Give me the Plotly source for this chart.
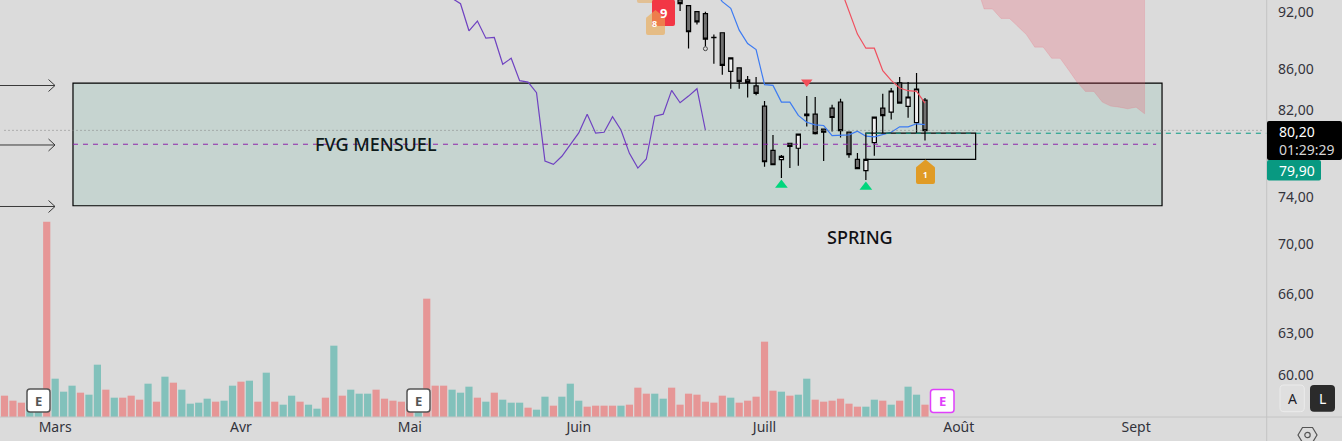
import plotly.graph_objects as go

# volume bars, one per session
volumes = [64, 49, 43, 50, 50, 586, 115, 76, 94, 73, 67, 157, 82, 58, 58, 64, 52, 100, 46, 121,
           103, 82, 40, 43, 55, 46, 49, 94, 106, 109, 46, 133, 46, 37, 64, 46, 37, 25, 58, 214,
           64, 82, 70, 70, 82, 55, 49, 46, 40, 40, 355, 94, 94, 82, 73, 91, 58, 46, 73, 52,
           43, 43, 28, 22, 61, 34, 61, 100, 49, 31, 34, 34, 34, 34, 37, 88, 70, 70, 55, 88,
           37, 70, 67, 46, 43, 64, 58, 43, 49, 61, 226, 79, 76, 64, 67, 115, 52, 46, 49, 55,
           40, 31, 31, 52, 49, 37, 49, 91, 67, 37]
vol_dir = "ddduudu" "uududdd" "dudud" "uuuuduududuuduuuduuuuddd" "uuuuu"
# u = teal, d = red
vol_dir = list("ddduud" "uuuduu" "duddd" "ududuu" "uuuduu" "dudu" "uduu" "du" "uuddddduu"[:0])
vol_dir = ["d", "d", "d", "u", "u", "d", "u", "u", "u", "d", "u", "u", "d", "u", "d", "d", "d", "u", "d", "u",
           "d", "u", "u", "u", "u", "d", "u", "u", "d", "u", "d", "u", "d", "u", "u", "d", "u", "u", "d", "u",
           "d", "u", "u", "u", "d", "d", "d", "d", "d", "u", "d", "d", "d", "u", "u", "u", "d", "u", "d", "u",
           "u", "u", "d", "u", "u", "d", "u", "u", "u", "d", "d", "d", "d", "u", "d", "d", "d", "u", "u", "d",
           "d", "d", "d", "d", "d", "d", "u", "d", "d", "d", "d", "d", "u", "d", "u", "u", "d", "d", "d", "d",
           "d", "d", "u", "u", "d", "u", "d", "u", "u", "d"]

# candles
candle_idx = list(range(79, 110))
opens = [94.50, 93.39, 92.73, 92.07, 91.86, 89.33, 89.81, 85.82, 86.17, 84.95, 84.35, 82.37, 78.19, 77.33, 78.84, 78.38,
         81.60, 81.60, 80.16, 82.18, 82.77, 79.88, 77.36, 76.33, 78.90, 82.18, 81.79, 84.65, 82.34, 80.79, 82.96]
highs = [95.00, 93.60, 92.73, 92.07, 92.07, 89.63, 89.81, 87.19, 86.17, 85.35, 85.25, 82.86, 79.62, 77.76, 78.84, 79.69,
         83.36, 83.26, 80.16, 82.50, 83.09, 79.88, 77.94, 77.36, 81.31, 83.58, 84.15, 85.25, 84.75, 85.66, 83.16]
lows = [92.76, 92.14, 88.16, 90.69, 88.40, 86.60, 85.48, 84.08, 84.08, 83.22, 83.42, 76.69, 76.87, 75.67, 76.57, 76.78,
        80.41, 79.65, 77.21, 79.93, 79.37, 77.51, 76.51, 75.49, 77.69, 79.78, 81.08, 82.67, 81.24, 79.78, 79.09]
closes = [93.60, 92.95, 89.92, 90.98, 89.13, 89.29, 86.43, 87.19, 84.81, 84.68, 83.61, 77.14, 76.87, 77.64, 78.56, 79.69,
          81.46, 79.74, 79.88, 81.27, 80.03, 77.79, 76.51, 77.36, 81.31, 81.46, 83.85, 82.67, 83.26, 84.05, 80.03]

# moving lines
purple_idx = list(range(52, 84))
purple_vals = [94.50, 93.53, 92.94, 90.02, 91.06, 89.24, 89.31, 86.54, 87.15, 84.88, 84.74, 83.68, 77.21, 76.90, 77.64, 78.72,
               79.81, 81.59, 79.78, 79.87, 81.34, 80.09, 77.91, 76.57, 77.39, 81.40, 81.59, 83.91, 82.70, 83.35, 84.08, 80.06]
blue_idx = list(range(84, 110))
blue_vals = [94.46, 93.16, 92.43, 90.09, 88.68, 88.05, 84.48, 84.41, 82.76, 82.76, 81.47, 80.82, 80.57, 80.51, 79.56, 79.56,
             79.62, 79.97, 79.50, 79.43, 79.65, 79.87, 80.38, 80.38, 80.67, 80.60]
red_idx = list(range(99, 110))
red_vals = [94.65, 92.07, 89.67, 88.19, 88.19, 85.89, 84.91, 84.15, 83.88, 83.81, 82.66]

# cloud edge
cloud_idx = list(range(115, 136))
cloud_low = [95.21, 92.36, 92.36, 91.34, 91.34, 90.45, 89.63, 88.30, 88.30, 87.15, 87.15, 85.96, 84.74, 83.81, 83.81, 82.76,
             82.37, 82.27, 82.11, 82.27, 81.63]
cloud_top = 110

spring_idx = [92, 102]
spring_vals = [75.05, 74.88]
signal_idx = [95]
signal_vals = [84.75]
ring_idx = [83]
ring_vals = [88.14]

zone_top, zone_bottom, zone_mid = 84.63, 73.24, 78.75
zone_start, zone_end = 8.11, 137.07
box_top, box_bottom, box_mid = 79.78, 77.36, 78.56
box_start, box_end = 102, 115
last_dotted = 80.05
last_green = 79.78

price_ticks = [92, 86, 82, 74, 70, 66, 63, 60]
price_labels = ["92,00", "86,00", "82,00", "74,00", "70,00", "66,00", "63,00", "60.00"]
month_ticks = [6, 28, 48, 68, 90, 113, 134]
month_labels = ["Mars", "Avr", "Mai", "Juin", "Juill", "Août", "Sept"]

FONT = "Noto Sans"
PLOT_W, PLOT_H = 1267, 417


def px(x):
    return x / PLOT_W


def py(y):
    return 1 - y / PLOT_H


def pt(x, y):
    return f"{px(x):.5f},{py(y):.5f}"


def round_box(x0, y0, x1, y1, r=3):
    return (f"M{pt(x0 + r, y0)} L{pt(x1 - r, y0)} Q{pt(x1, y0)} {pt(x1, y0 + r)} L{pt(x1, y1 - r)} "
            f"Q{pt(x1, y1)} {pt(x1 - r, y1)} L{pt(x0 + r, y1)} Q{pt(x0, y1)} {pt(x0, y1 - r)} "
            f"L{pt(x0, y0 + r)} Q{pt(x0, y0)} {pt(x0 + r, y0)} Z")


def house(x0, x1, peak, shoulder, bottom):
    mid = (x0 + x1) / 2
    return (f"M{pt(mid, peak)} L{pt(x1 - 1, shoulder)} Q{pt(x1, shoulder)} {pt(x1, shoulder + 2)} "
            f"L{pt(x1, bottom - 2)} Q{pt(x1, bottom)} {pt(x1 - 2, bottom)} L{pt(x0 + 2, bottom)} "
            f"Q{pt(x0, bottom)} {pt(x0, bottom - 2)} L{pt(x0, shoulder + 2)} Q{pt(x0, shoulder)} {pt(x0 + 1, shoulder)} Z")


def add_path(path, fill="rgba(0,0,0,0)", color="rgba(0,0,0,0)", width=1):
    fig.add_shape(type="path", path=path, xref="paper", yref="paper", fillcolor=fill,
                  line=dict(color=color, width=width))


def add_label(x, y, text, size=14, color="#33333b", weight=400, family=FONT, xanchor="center"):
    fig.add_annotation(x=px(x), y=py(y), xref="paper", yref="paper", text=text, showarrow=False,
                       xanchor=xanchor, yanchor="middle", borderpad=0,
                       font=dict(family=family, size=size, color=color, weight=weight))


fig = go.Figure()

fig.add_trace(go.Bar(x=list(range(len(volumes))), y=volumes, yaxis="y2", width=0.85,
                     marker=dict(color=["#82c1bb" if d == "u" else "#e69696" for d in vol_dir], line_width=0)))

fig.add_trace(go.Scatter(x=cloud_idx + cloud_idx[::-1], y=cloud_low + [cloud_top] * len(cloud_idx), fill="toself",
                         mode="lines", fillcolor="rgba(242,70,90,0.22)",
                         line=dict(color="rgba(242,70,90,0.15)", width=1)))
fig.add_trace(go.Scatter(x=purple_idx, y=purple_vals, mode="lines", line=dict(color="#6f42c1", width=1.2)))
fig.add_trace(go.Scatter(x=blue_idx, y=blue_vals, mode="lines", line=dict(color="#3d7bf2", width=1.2)))
fig.add_trace(go.Candlestick(x=candle_idx, open=opens, high=highs, low=lows, close=closes, whiskerwidth=0,
                             increasing=dict(fillcolor="#eeeeee", line=dict(color="#000000", width=1.2)),
                             decreasing=dict(fillcolor="#707070", line=dict(color="#000000", width=1.2))))
fig.add_trace(go.Scatter(x=red_idx, y=red_vals, mode="lines", line=dict(color="#f0505f", width=1.2)))
fig.add_trace(go.Scatter(x=spring_idx, y=spring_vals, mode="markers",
                         marker=dict(symbol="triangle-up", size=11, color="#00d67c", line_width=0)))
fig.add_trace(go.Scatter(x=signal_idx, y=signal_vals, mode="markers",
                         marker=dict(symbol="triangle-down", size=10, color="#f2505a", line_width=0)))
fig.add_trace(go.Scatter(x=ring_idx, y=ring_vals, mode="markers",
                         marker=dict(symbol="circle-open", size=4, color="#444444", line_width=1)))

# FVG zone + lines
fig.add_shape(type="rect", x0=zone_start, x1=zone_end, y0=zone_bottom, y1=zone_top, xref="x", yref="y", layer="below",
              fillcolor="#c6d4d0", line=dict(color="#000000", width=1.2))
fig.add_shape(type="line", x0=zone_start, x1=zone_end - 0.7, y0=zone_mid, y1=zone_mid, xref="x", yref="y",
              line=dict(color="#8e24aa", width=1, dash="5px,5px"))
fig.add_shape(type="line", x0=0, x1=149, y0=last_dotted, y1=last_dotted, xref="x", yref="y",
              line=dict(color="#808080", width=1, dash="1px,3px"))
fig.add_shape(type="rect", x0=box_start, x1=box_end, y0=box_bottom, y1=box_top, xref="x", yref="y",
              line=dict(color="#000000", width=1.2))
fig.add_shape(type="line", x0=box_start, x1=box_end, y0=box_mid, y1=box_mid, xref="x", yref="y",
              line=dict(color="#8e24aa", width=1, dash="5px,5px"))
fig.add_shape(type="line", x0=box_start, x1=149.5, y0=last_green, y1=last_green, xref="x", yref="y",
              line=dict(color="#089981", width=1, dash="5px,5px"))

# arrows on the left
for y in [85.5, 145, 206.5]:
    add_path(f"M{pt(0, y)} L{pt(55, y)} M{pt(48.5, y - 6)} L{pt(55, y)} L{pt(48.5, y + 6)}", color="#3a3a3a", width=1)

# axis lines
fig.add_shape(type="line", xref="paper", yref="paper", x0=px(1266.7), x1=px(1266.7), y0=py(0), y1=py(441),
              line=dict(color="#c4c4c4", width=1))
fig.add_shape(type="line", xref="paper", yref="paper", x0=0, x1=px(1342), y0=py(417), y1=py(417),
              line=dict(color="#c4c4c4", width=1))

# price tags
add_path(round_box(1267, 121, 1342, 160, 2), fill="#000000")
add_label(1278, 131, "80,20", color="#ffffff", xanchor="left")
add_label(1278, 149, "01:29:29", color="#d6d6d6", xanchor="left")
add_path(round_box(1267, 160, 1321, 180.5, 2), fill="#089981")
add_label(1278, 170, "79,90", color="#ffffff", xanchor="left")

# pattern labels
add_path(round_box(637, -8, 655, 3, 2), fill="rgba(232,170,90,0.55)")
add_path(house(652, 675, -8, 0, 26), fill="#f23645")
add_label(663.5, 13, "9", size=13, color="#ffffff", weight=700)
add_path(house(646, 665, 10, 17, 35), fill="rgba(235,170,80,0.62)")
add_label(654, 24, "8", size=9, color="#ffffff", weight=700)
add_path(house(916, 935, 159.5, 166.5, 184), fill="#e09b25")
add_label(925, 174, "1", size=8, color="#ffffff", weight=700)

# earnings boxes
for x0 in [27, 407]:
    add_path(round_box(x0, 389, x0 + 23, 412, 3), fill="#ffffff", color="#555555", width=1.5)
    add_label(x0 + 11.5, 400.5, "E", size=13, color="#555555", weight=700)
add_path(round_box(930.5, 389.5, 954, 412.5, 3), fill="#ffffff", color="#e040fb", width=1.5)
add_label(942, 401, "E", size=13, color="#e040fb", weight=700)

# A / L buttons and gear
add_path(round_box(1280, 385, 1304.3, 411.7, 4), fill="#dfdfdf", color="#ececec", width=1)
add_label(1292, 398.5, "A", size=14, color="#1f1f2a")
add_path(round_box(1310, 385, 1335, 411.7, 4), fill="#2b2b2b")
add_label(1322.5, 398.5, "L", size=14, color="#ffffff")
add_path(f"M{pt(1298, 435)} L{pt(1302.5, 427.5)} L{pt(1312.5, 427.5)} L{pt(1317, 435)} L{pt(1312.5, 442.5)} "
         f"L{pt(1302.5, 442.5)} Z", color="#555555", width=1.2)
fig.add_shape(type="circle", xref="paper", yref="paper", x0=px(1304.8), x1=px(1310.2), y0=py(432.3), y1=py(437.7),
              line=dict(color="#555555", width=1.2))

add_label(376, 144, "FVG MENSUEL", size=18, color="#0d1a1a", weight=500)
add_label(860, 237, "SPRING", size=18, color="#101014", weight=500)

fig.update_layout(
    width=1342, height=441, autosize=False,
    margin=dict(l=0, r=75, t=0, b=24),
    paper_bgcolor="#dbdbdb", plot_bgcolor="#dbdbdb",
    showlegend=False, hovermode=False, barmode="overlay",
    font=dict(family=FONT, size=14, color="#33333b"),
    xaxis=dict(range=[-0.533, 149.5], tickmode="array", tickvals=month_ticks, ticktext=month_labels, ticks="",
               showgrid=False, zeroline=False, showline=False, rangeslider=dict(visible=False),
               tickfont=dict(family=FONT, size=14, color="#33333b")),
    yaxis=dict(type="log", range=[1.7566, 1.9701], side="right", tickmode="array", tickvals=price_ticks,
               ticktext=price_labels, ticks="", showgrid=False, zeroline=False, showline=False,
               ticklabelstandoff=10, tickfont=dict(family=FONT, size=14, color="#33333b")),
    yaxis2=dict(range=[0, 1251], overlaying="y", visible=False, showgrid=False, zeroline=False),
)

fig.write_html("out.html", config=dict(displayModeBar=False),
               post_script="document.body.style.margin='0';document.body.style.overflow='hidden';")
